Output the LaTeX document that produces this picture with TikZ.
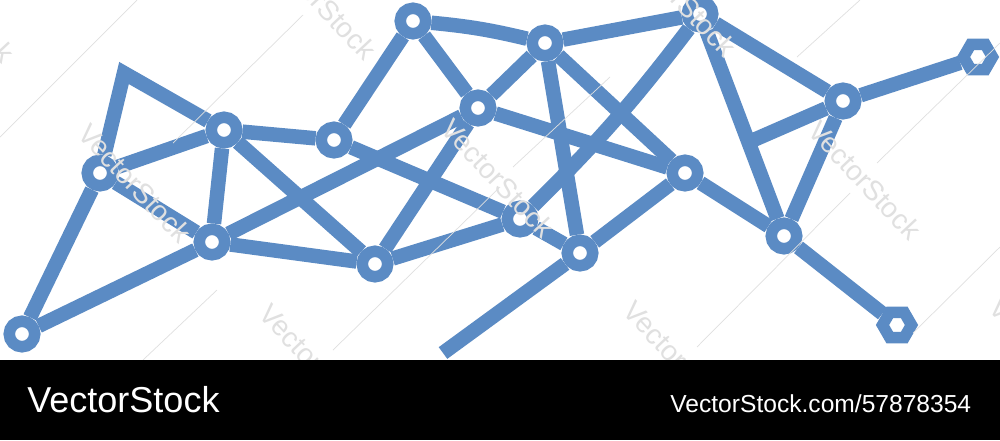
\documentclass[tikz,border=0pt]{standalone}
\usepackage{fontspec}
\setmainfont{Liberation Sans}
\usetikzlibrary{backgrounds,shapes.geometric}
\definecolor{netblue}{RGB}{91,139,196}
\definecolor{wmgray}{gray}{0.88}

\begin{document}
\begin{tikzpicture}
    [x=0.02cm,y=-0.02cm,
    place/.style={circle,draw=netblue,fill=white,line width=0.23cm,
    inner sep=0pt,minimum size=0.51cm},
    hexplace/.style={regular polygon,regular polygon sides=6,draw=netblue,
    fill=white,line width=0.23cm,inner sep=0pt,minimum size=0.58cm},
    link/.style={draw=netblue,line width=0.29cm,line join=round},
    watermark/.style={text=wmgray,rotate=-47,inner sep=0pt,
    font=\fontsize{16}{18}\selectfont},
    hatch/.style={draw=wmgray,line width=0.4pt}]
    \useasboundingbox (0,0) rectangle (1000,440);
    % nodes of the net
    \node[place] (tail) at (22,334) {};
    \node[place] (hip) at (100,173) {};
    \coordinate (corner) at (124,73);
    \node[place] (back) at (224,130) {};
    \node[place] (belly) at (212,242) {};
    \node[place] (waist) at (334,140) {};
    \node[place] (knee) at (375,264) {};
    \node[place] (crest) at (413,21) {};
    \node[place] (hub) at (478,108) {};
    \node[place] (ridge) at (545,43) {};
    \node[place] (joint) at (520,219) {};
    \node[place] (foot) at (580,253) {};
    \node[place] (summit) at (700,14) {};
    \node[place] (flank) at (685,173) {};
    \node[place] (neck) at (843,101) {};
    \node[hexplace] (snout) at (978,57) {};
    \node[place] (chin) at (784,236) {};
    \node[hexplace] (claw) at (897,325) {};
    \coordinate (leg end) at (443,353);
    \coordinate (brace) at (749,142);
    % links behind the nodes
    \begin{scope}[on background layer]
        \fill[white] (0,0) rectangle (1000,360);
        \draw[link] (tail) -- (hip);
        \draw[link] (tail) -- (belly);
        \draw[link,line join=miter] (hip) -- (corner) -- (back);
        \draw[link] (hip) -- (back);
        \draw[link] (hip) -- (belly);
        \draw[link] (back) -- (belly);
        \draw[link] (back) -- (waist);
        \draw[link] (back) -- (knee);
        \draw[link] (belly) -- (knee);
        \draw[link] (belly) -- (hub);
        \draw[link] (waist) -- (crest);
        \draw[link] (waist) -- (joint);
        \draw[link] (knee) -- (joint);
        \draw[link] (knee) -- (hub);
        \draw[link] (crest) -- (hub);
        \draw[link] (crest) to[bend left=4] (ridge);
        \draw[link] (hub) -- (ridge);
        \draw[link] (hub) -- (flank);
        \draw[link] (ridge) -- (summit);
        \draw[link] (ridge) -- (foot);
        \draw[link] (ridge) -- (flank);
        \draw[link] (joint) -- (foot);
        \draw[link] (joint) to[bend right=4] (summit);
        \draw[link] (foot) -- (flank);
        \draw[link] (foot) -- (leg end);
        \draw[link] (summit) -- (neck);
        \draw[link] (summit) -- (chin);
        \draw[link] (brace) -- (neck);
        \draw[link] (flank) -- (chin);
        \draw[link] (neck) -- (chin);
        \draw[link] (neck) -- (snout);
        \draw[link] (chin) -- (claw);
    \end{scope}
    % watermark
    \begin{scope}
        \clip (0,0) rectangle (1000,360);
        \draw[hatch] (0,137) -- (137,0);
        \draw[hatch] (173,143) -- (303,15);
        \draw[hatch] (143,360) -- (217,290);
        \draw[hatch] (333,350) -- (500,187);
        \draw[hatch] (513,167) -- (610,77);
        \draw[hatch] (697,347) -- (850,193);
        \draw[hatch] (797,57) -- (860,0);
        \draw[hatch] (877,163) -- (1000,43);
        \draw[hatch] (913,333) -- (1000,247);
        \foreach \wx/\wy in {-42/3,320/0,680/-3,135/183,498/178,865/180,
            316/363,680/360,1046/357}
            \node[watermark] (wm\wx) at (\wx,\wy) {VectorStock};
    \end{scope}
    % footer band
    \fill[black] (0,360) rectangle (1000,440);
    \node[white,anchor=base west,inner sep=0pt,
    font=\fontsize{20.5}{24}\selectfont] (brand) at (27,412) {VectorStock};
    \node[white,anchor=base west,inner sep=0pt,
    font=\fontsize{14}{17}\selectfont] (link id) at (670,412)
    {VectorStock.com/57878354};
\end{tikzpicture}
\end{document}
